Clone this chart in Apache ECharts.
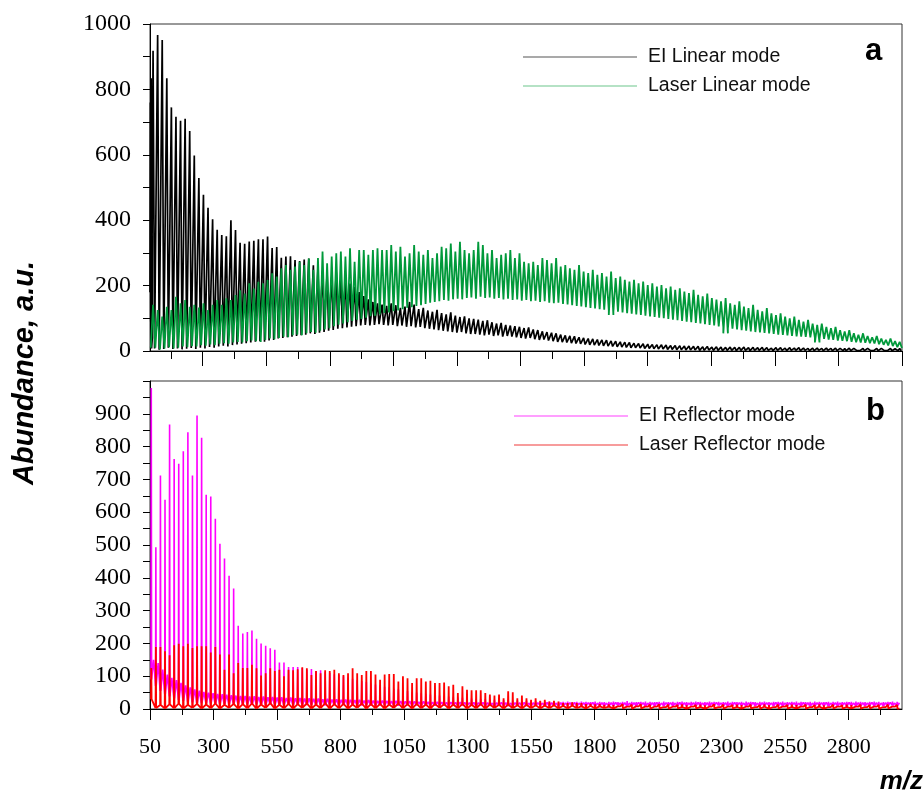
<!DOCTYPE html>
<html>
<head>
<meta charset="utf-8">
<script src="https://cdn.jsdelivr.net/npm/echarts@6/dist/echarts.min.js"></script>
<style>
  html, body { margin: 0; padding: 0; background: #fff; }
  #chart { width: 924px; height: 793px; }
</style>
</head>
<body>
<div id="chart"></div>
<script>
// Protonated water cluster series (H2O)nH+, n = 3 .. 166
const clusterSizes = [];
for (let n = 3; n <= 166; n++) clusterSizes.push(n);

// ---- Panel a: linear mode (peak tops and the trace between peaks) ----
const eiLinearPeaks = [
  918, 966, 951, 834, 745, 716, 704, 710, 673, 598,
  529, 478, 438, 403, 371, 355, 351, 400, 370, 331,
  328, 335, 337, 342, 342, 350, 315, 318, 285, 289,
  290, 278, 275, 280, 283, 262, 250, 244, 236, 228,
  240, 222, 214, 206, 196, 180, 168, 158, 150, 146,
  142, 138, 146, 140, 132, 136, 150, 142, 128, 132,
  124, 120, 126, 116, 112, 118, 108, 104, 106, 100,
  98, 96, 92, 94, 88, 84, 86, 80, 78, 76,
  74, 70, 72, 66, 64, 60, 58, 56, 54, 50,
  48, 46, 45, 42, 40, 38, 37, 35, 34, 33,
  31, 30, 28, 27, 26, 24, 23, 22, 21, 20,
  19, 19, 18, 17, 17, 16, 15, 15, 14, 14,
  13, 14, 12, 13, 12, 11, 12, 11, 11, 12,
  10, 11, 10, 11, 10, 9, 10, 10, 9, 10,
  9, 10, 9, 8, 9, 9, 8, 9, 8, 9,
  8, 8, 9, 8, 7, 8, 8, 7, 8, 8,
  7, 8, 7, 8
];
const eiLinearValleys = [
  8, 4, 6, 10, 6, 8, 5, 7, 9, 6,
  10, 8, 12, 10, 14, 16, 14, 18, 20, 22,
  24, 26, 28, 30, 28, 32, 34, 38, 40, 42,
  44, 46, 48, 50, 54, 52, 56, 58, 62, 64,
  68, 70, 72, 74, 76, 78, 80, 78, 80, 82,
  80, 78, 80, 76, 78, 74, 76, 72, 74, 70,
  68, 66, 64, 62, 60, 58, 56, 58, 54, 52,
  52, 50, 48, 50, 46, 48, 44, 46, 44, 42,
  40, 38, 40, 36, 34, 35, 32, 30, 28, 27,
  26, 24, 23, 22, 20, 19, 18, 17, 16, 15,
  14, 13, 12, 11, 10, 10, 9, 8, 8, 7,
  6, 6, 5, 5, 4, 4, 3, 3, 3, 2,
  2, 3, 2, 2, 1, 2, 2, 1, 2, 2,
  1, 2, 2, 1, 2, 1, 2, 2, 1, 2,
  2, 1, 2, 1, 1, 2, 1, 2, 1, 1,
  2, 1, 1, 2, 1, 1, 2, 1, 1, 2,
  1, 1, 2, 1
];
// low-mass fragments below the n = 3 cluster: [m/z, abundance]
const eiLinearLowMass = [[43, 180], [44.5, 760], [46, 90], [47.5, 834], [49, 120], [50.5, 790], [52, 40]];

const laserLinearPeaks = [
  141, 125, 105, 135, 125, 166, 146, 156, 135, 141,
  133, 146, 125, 141, 156, 141, 161, 156, 171, 186,
  176, 207, 191, 212, 207, 217, 238, 228, 253, 263,
  248, 258, 273, 263, 283, 248, 284, 304, 268, 289,
  299, 304, 289, 314, 273, 309, 309, 294, 309, 314,
  309, 309, 324, 304, 319, 289, 299, 324, 304, 294,
  309, 284, 299, 319, 314, 329, 304, 334, 309, 299,
  309, 334, 324, 299, 309, 284, 294, 299, 309, 284,
  299, 273, 268, 273, 263, 284, 278, 268, 284, 258,
  263, 253, 248, 263, 243, 238, 248, 233, 238, 228,
  243, 223, 228, 218, 212, 218, 207, 212, 202, 207,
  197, 202, 192, 197, 187, 192, 182, 177, 187, 172,
  167, 176, 162, 157, 152, 162, 146, 141, 152, 136,
  131, 141, 126, 121, 131, 115, 110, 115, 105, 100,
  105, 95, 90, 95, 84, 80, 84, 74, 70, 74,
  64, 60, 64, 54, 50, 54, 46, 42, 46, 38,
  34, 38, 30, 28
];
const laserLinearValleys = [
  10, 5, 8, 12, 8, 10, 14, 12, 15, 14,
  18, 16, 20, 18, 22, 24, 22, 26, 28, 26,
  30, 32, 30, 28, 34, 38, 36, 40, 44, 42,
  48, 50, 48, 54, 58, 56, 62, 66, 70, 76,
  80, 84, 88, 92, 96, 98, 102, 106, 108, 112,
  116, 118, 122, 124, 128, 132, 134, 138, 140, 144,
  148, 150, 152, 156, 154, 158, 160, 158, 162, 164,
  160, 166, 162, 164, 160, 162, 158, 160, 156, 158,
  154, 156, 152, 154, 150, 152, 148, 146, 148, 144,
  142, 140, 138, 136, 134, 132, 130, 128, 126, 124,
  110, 120, 118, 116, 114, 112, 110, 108, 106, 104,
  102, 100, 98, 96, 94, 92, 90, 88, 86, 84,
  82, 80, 78, 75, 73, 54, 68, 66, 64, 62,
  60, 58, 57, 55, 54, 52, 50, 49, 48, 46,
  45, 44, 43, 42, 40, 26, 37, 35, 34, 32,
  31, 30, 28, 27, 26, 25, 24, 23, 21, 19,
  17, 15, 12, 9
];

// ---- Panel b: reflector mode (narrow peaks over a background) ----
const eiReflectorPeaks = [
  979, 493, 712, 638, 867, 762, 748, 786, 844, 712,
  895, 827, 653, 648, 580, 504, 459, 406, 367, 254,
  230, 235, 239, 214, 200, 193, 185, 181, 142, 142,
  128, 128, 128, 125, 120, 122, 116, 118, 112, 110,
  106, 104, 100, 96, 92, 88, 85, 82, 78, 75,
  72, 68, 66, 62, 60, 57, 55, 52, 50, 48,
  46, 44, 42, 41, 39, 38, 36, 35, 34, 33,
  32, 31, 30, 30, 29, 28, 28, 27, 27, 26,
  26, 25, 25, 24, 24, 24, 23, 23, 23, 22,
  22, 23, 21, 22, 23, 22, 21, 23, 22, 21,
  22, 23, 21, 22, 24, 22, 21, 22, 23, 22,
  21, 22, 23, 21, 22, 22, 23, 21, 22, 23,
  22, 21, 23, 22, 22, 21, 23, 22, 21, 22,
  23, 22, 21, 22, 23, 21, 22, 22, 23, 21,
  22, 23, 22, 21, 22, 23, 22, 21, 22, 22,
  23, 21, 22, 22, 23, 22, 21, 22, 23, 22,
  21, 22, 23, 22
];
const eiReflectorFloor = [
  90, 70, 55, 45, 38, 32, 28, 25, 22, 20,
  19, 18, 17, 17, 16, 16, 15, 15, 15, 14,
  14, 14, 13, 14, 13, 13, 14, 13, 13, 12,
  13, 12, 13, 12, 12, 13, 12, 12, 11, 12,
  12, 11, 12, 11, 12, 11, 11, 12, 11, 11,
  11, 12, 11, 11, 10, 11, 11, 10, 11, 10,
  11, 10, 10, 11, 10, 10, 11, 10, 10, 11,
  10, 9, 11, 10, 10, 9, 11, 10, 9, 10,
  11, 10, 9, 10, 10, 11, 9, 10, 10, 9,
  10, 11, 10, 9, 10, 10, 11, 9, 10, 10,
  9, 10, 11, 10, 9, 10, 10, 11, 9, 10,
  10, 9, 10, 11, 10, 9, 10, 10, 11, 9,
  10, 10, 9, 10, 11, 10, 9, 10, 10, 11,
  9, 10, 10, 9, 10, 11, 10, 9, 10, 10,
  11, 9, 10, 10, 9, 10, 11, 10, 9, 10,
  10, 11, 9, 10, 10, 9, 10, 11, 10, 9,
  10, 10, 11, 9
];
const eiReflectorHump = [
  150, 140, 120, 105, 95, 88, 80, 72, 66, 60,
  56, 52, 50, 48, 46, 45, 44, 42, 41, 40,
  40, 38, 39, 37, 38, 36, 37, 35, 36, 34,
  35, 33, 34, 32, 33, 31, 32, 30, 31, 29,
  30, 28, 29, 28, 27, 28, 26, 27, 26, 25,
  26, 25, 24, 25, 24, 23, 24, 23, 22, 23,
  22, 21, 22, 21, 20, 21, 20, 21, 20, 19,
  20, 19, 20, 19, 18, 19, 20, 19, 18, 19,
  19, 20, 18, 19, 19, 18, 20, 19, 18, 19,
  18, 19, 20, 18, 19, 19, 20, 18, 19, 18,
  19, 20, 18, 19, 18, 19, 20, 19, 18, 19,
  20, 18, 19, 19, 18, 20, 19, 18, 19, 20,
  18, 19, 19, 20, 18, 19, 18, 20, 19, 18,
  19, 20, 18, 19, 19, 18, 20, 19, 18, 19,
  19, 18, 20, 19, 18, 19, 19, 20, 18, 19,
  18, 19, 20, 18, 19, 19, 18, 20, 19, 18,
  19, 20, 18, 19
];

const laserReflectorPeaks = [
  125, 189, 189, 176, 164, 194, 199, 191, 199, 186,
  191, 191, 191, 172, 189, 166, 120, 166, 109, 140,
  125, 125, 135, 124, 102, 109, 124, 116, 120, 100,
  120, 118, 121, 127, 124, 104, 116, 109, 118, 116,
  120, 109, 104, 109, 124, 109, 104, 116, 116, 105,
  89, 105, 107, 107, 84, 100, 94, 79, 94, 94,
  84, 86, 79, 79, 81, 69, 74, 49, 69, 59,
  57, 57, 57, 49, 44, 41, 44, 33, 54, 51,
  33, 41, 33, 28, 33, 25, 28, 23, 25, 23,
  18, 18, 20, 18, 18, 15, 16, 14, 15, 13,
  14, 12, 13, 15, 12, 13, 11, 14, 12, 13,
  12, 14, 11, 13, 12, 12, 14, 11, 13, 12,
  13, 11, 12, 14, 12, 13, 11, 12, 13, 12,
  12, 13, 11, 12, 14, 12, 11, 13, 12, 12,
  13, 12, 11, 13, 12, 12, 14, 11, 12, 13,
  12, 11, 13, 12, 12, 13, 11, 12, 13, 12,
  12, 13, 11, 12
];
const laserReflectorFloor = [
  30, 3, 12, 2, 14, 3, 16, 2, 12, 4,
  15, 2, 13, 3, 16, 2, 12, 4, 15, 2,
  14, 3, 16, 2, 13, 4, 17, 2, 12, 3,
  15, 2, 14, 4, 16, 2, 13, 3, 17, 2,
  14, 3, 15, 2, 13, 4, 16, 2, 14, 3,
  15, 2, 13, 4, 16, 3, 14, 2, 15, 3,
  13, 2, 15, 4, 14, 2, 13, 3, 15, 2,
  12, 3, 14, 2, 13, 4, 12, 2, 13, 3,
  11, 2, 12, 3, 11, 2, 10, 3, 11, 2,
  9, 2, 10, 3, 8, 2, 9, 2, 8, 3,
  7, 2, 8, 2, 7, 1, 8, 2, 7, 1,
  7, 2, 6, 1, 7, 2, 6, 1, 7, 2,
  6, 1, 7, 2, 6, 1, 7, 2, 6, 1,
  7, 2, 6, 1, 7, 1, 6, 2, 7, 1,
  6, 2, 7, 1, 6, 2, 7, 1, 6, 2,
  7, 1, 6, 2, 7, 1, 6, 2, 7, 1,
  6, 2, 7, 1
];

// ---- Axis ticks and labels ----
const topMajorTicks = [250, 500, 750, 1000, 1250, 1500, 1750, 2000, 2250, 2500, 2750, 3000];
const topMinorTicks = [125, 375, 625, 875, 1125, 1375, 1625, 1875, 2125, 2375, 2625, 2875];
const mzLabels = [50, 300, 550, 800, 1050, 1300, 1550, 1800, 2050, 2300, 2550, 2800];
const bottomMinorTicks = [175, 425, 675, 925, 1175, 1425, 1675, 1925, 2175, 2425, 2675, 2925];
const topYLabels = [0, 200, 400, 600, 800, 1000];
const topYTicks = [0, 100, 200, 300, 400, 500, 600, 700, 800, 900, 1000];
const bottomYLabels = [0, 100, 200, 300, 400, 500, 600, 700, 800, 900];
const bottomYTicks = [0, 50, 100, 150, 200, 250, 300, 350, 400, 450, 500, 550, 600, 650, 700, 750, 800, 850, 900, 950, 1000];

// ---- Build traces ----
const mzOf = n => 18.0106 * n + 1.0073;

// broad peaks: valley - top - valley around each cluster mass
function linearTrace(peaks, valleys, halfWidth, lead) {
  const pts = lead ? lead.slice() : [];
  clusterSizes.forEach((n, i) => {
    const m = mzOf(n);
    pts.push([m - halfWidth, valleys[i]], [m, peaks[i]], [m + halfWidth, valleys[i]]);
  });
  return pts;
}
// narrow peaks with a background level half-way to the next cluster
function reflectorTrace(peaks, floor, background) {
  const pts = [];
  clusterSizes.forEach((n, i) => {
    const m = mzOf(n);
    pts.push([m - 1.2, floor[i]], [m, peaks[i]], [m + 1.2, floor[i]], [m + 9, background[i]]);
  });
  return pts;
}

const SANS = '"Liberation Sans", Arial, sans-serif';
const SERIF = '"Liberation Serif", "Times New Roman", serif';
const plain = v => String(v);

function tickAxis(gridIndex, min, max, ticks, len, showLine, labels) {
  return {
    type: 'value', gridIndex, min, max, position: 'bottom',
    axisLine: { show: showLine, onZero: false, lineStyle: { color: '#000', width: 1 } },
    axisTick: { show: true, inside: false, length: len, customValues: ticks, lineStyle: { color: '#000', width: 1 } },
    axisLabel: labels
      ? { show: true, customValues: labels, formatter: plain, fontFamily: SERIF, fontSize: 22, color: '#000', margin: 27 }
      : { show: false },
    splitLine: { show: false }
  };
}
function yAxis(gridIndex, labels, ticks) {
  return {
    type: 'value', gridIndex, min: 0, max: 1000,
    axisLine: { show: true, lineStyle: { color: '#000', width: 1 } },
    axisTick: { show: true, inside: false, length: 7, customValues: ticks, lineStyle: { color: '#000', width: 1 } },
    axisLabel: { show: true, customValues: labels, formatter: plain, fontFamily: SERIF, fontSize: 24, color: '#000', margin: 19 },
    splitLine: { show: false }
  };
}
function lineSeries(name, color, data, xi, yi, width) {
  return {
    name, type: 'line', data, xAxisIndex: xi, yAxisIndex: yi,
    symbol: 'none', showSymbol: false, silent: true,
    lineStyle: { color, width }, itemStyle: { color },
    animation: false
  };
}
function legendBlock(items, left, top) {
  return {
    data: items, orient: 'vertical', left, top, padding: 0, icon: 'rect',
    itemWidth: 114, itemHeight: 1, itemGap: 9,
    textStyle: { fontFamily: SANS, fontSize: 19.5, color: '#111', padding: [0, 0, 0, 6] },
    selectedMode: false
  };
}

const chart = echarts.init(document.getElementById('chart'), null, { renderer: 'canvas' });
chart.setOption({
  backgroundColor: '#fff',
  animation: false,
  grid: [
    { left: 150, right: 22, top: 24, height: 327, show: true, borderColor: '#333', borderWidth: 1, backgroundColor: 'transparent' },
    { left: 150, right: 22, top: 381, height: 328, show: true, borderColor: '#333', borderWidth: 1, backgroundColor: 'transparent' }
  ],
  xAxis: [
    tickAxis(0, 43, 3000, topMajorTicks, 15, true, null),
    tickAxis(0, 43, 3000, topMinorTicks, 8, false, null),
    tickAxis(1, 50, 3010, mzLabels, 11, true, mzLabels),
    tickAxis(1, 50, 3010, bottomMinorTicks, 6, false, null)
  ],
  yAxis: [
    yAxis(0, topYLabels, topYTicks),
    yAxis(1, bottomYLabels, bottomYTicks)
  ],
  legend: [
    legendBlock([
      { name: 'EI Linear mode', itemStyle: { color: '#555' } },
      { name: 'Laser Linear mode', itemStyle: { color: '#6cc68c' } }
    ], 523, 47),
    legendBlock([
      { name: 'EI Reflector mode', itemStyle: { color: '#ff40ff' } },
      { name: 'Laser Reflector mode', itemStyle: { color: '#f03a3a' } }
    ], 514, 406)
  ],
  graphic: [
    { type: 'text', left: 865, top: 36, style: { text: 'a', font: 'bold 31px ' + SANS, fill: '#000' } },
    { type: 'text', left: 866, top: 396, style: { text: 'b', font: 'bold 31px ' + SANS, fill: '#000' } },
    { type: 'text', x: 25, y: 373, rotation: Math.PI / 2,
      style: { text: 'Abundance, a.u.', font: 'italic bold 29px ' + SANS, fill: '#000', align: 'center', verticalAlign: 'middle' } },
    { type: 'text', x: 923, y: 795,
      style: { text: 'm/z', font: 'italic bold 26px ' + SANS, fill: '#000', align: 'right', verticalAlign: 'bottom' } }
  ],
  series: [
    lineSeries('EI Linear mode', '#000000', linearTrace(eiLinearPeaks, eiLinearValleys, 6, eiLinearLowMass), 0, 0, 1.7),
    lineSeries('Laser Linear mode', '#00993a', linearTrace(laserLinearPeaks, laserLinearValleys, 9, null), 0, 0, 1.8),
    lineSeries('EI Reflector mode', '#ff00ff', reflectorTrace(eiReflectorPeaks, eiReflectorFloor, eiReflectorHump), 2, 1, 1.6),
    lineSeries('Laser Reflector mode', '#ff0000', reflectorTrace(laserReflectorPeaks, laserReflectorFloor, laserReflectorFloor), 2, 1, 1.8)
  ]
});
</script>
</body>
</html>
